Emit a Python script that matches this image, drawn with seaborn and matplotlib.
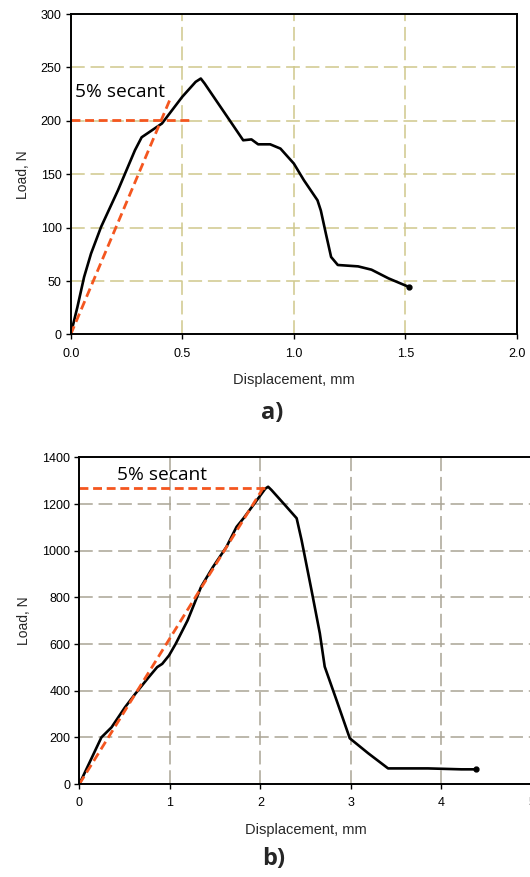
import matplotlib
matplotlib.use("Agg")
import matplotlib.pyplot as plt
import seaborn as sns
import pandas as pd

# ---- data: panel a) ----
disp_a = [0, 0.03, 0.06, 0.091, 0.136, 0.212, 0.288, 0.318, 0.409, 0.5, 0.56, 0.583, 0.60,
          0.652, 0.712, 0.773, 0.81, 0.84, 0.894, 0.94, 1.0, 1.045, 1.106, 1.121, 1.144,
          1.167, 1.197, 1.288, 1.348, 1.424, 1.515]
load_a = [0, 25.6, 53.7, 75.6, 100.6, 135, 172.5, 184.6, 197.5, 222.5, 236.5, 239.6, 235,
          219, 200.6, 181.8, 182.6, 178, 178, 174, 160, 144.4, 125.6, 116, 94,
          72.5, 65, 63.7, 60.6, 52.5, 44.5]
secant_a_x = [0, 0.447]
secant_a_y = [0, 221]
level_a_x = [0, 0.538]
level_a_y = [201, 201]

# ---- data: panel b) ----
disp_b = [0, 0.243, 0.355, 0.504, 0.616, 0.766, 0.859, 0.915, 0.99, 1.064, 1.195, 1.27,
          1.344, 1.475, 1.624, 1.736, 1.811, 1.92, 2.054, 2.085, 2.122, 2.27, 2.40, 2.454,
          2.564, 2.656, 2.71, 2.84, 2.987, 3.19, 3.41, 3.85, 4.22, 4.385]
load_b = [0, 200, 243, 329, 386, 458, 501, 515, 551, 601, 701, 773,
          845, 930, 1016, 1102, 1138, 1195, 1266, 1274, 1260, 1196, 1139, 1046,
          831, 646, 503, 360, 196, 132, 67, 67, 63, 63]
secant_b_x = [0, 2.05]
secant_b_y = [0, 1281]
level_b_x = [0, 2.05]
level_b_y = [1270, 1270]

xticks_a = [0.0, 0.5, 1.0, 1.5, 2.0]
xticklabels_a = ["0.0", "0.5", "1.0", "1.5", "2.0"]
yticks_a = [0, 50, 100, 150, 200, 250, 300]
xticks_b = [0, 1, 2, 3, 4, 5]
yticks_b = [0, 200, 400, 600, 800, 1000, 1200, 1400]

sns.set_style("white")
plt.rcParams['font.family'] = ['Liberation Sans', 'DejaVu Sans']

fig = plt.figure(figsize=(5.30, 8.77), dpi=100)
ax1 = fig.add_axes([0.1334, 0.6187, 0.842, 0.3653])
ax2 = fig.add_axes([0.1498, 0.106, 0.854, 0.3725])

orange = "#f4561f"
secant_dash = (0, (3.2, 1.7))

def style(ax, gridcolor):
    for s in ax.spines.values():
        s.set_color("black")
        s.set_linewidth(1.4)
    ax.grid(True, color=gridcolor, linestyle=(0, (9, 3.8)), linewidth=1.1)
    ax.set_axisbelow(True)
    ax.tick_params(axis="both", direction="out", length=3.5, width=1.0,
                   colors="black", labelsize=9, bottom=True, left=True)
    ax.tick_params(axis="x", pad=6)
    ax.tick_params(axis="y", pad=3)
    ax.set_xlabel("Displacement, mm", fontsize=10.5, labelpad=10)
    ax.set_ylabel("Load, N", fontsize=10, labelpad=8)

# panel a
df_a = pd.DataFrame({"disp": disp_a, "load": load_a})
sns.lineplot(data=df_a, x="disp", y="load", ax=ax1, color="black", linewidth=1.9,
             sort=False, estimator=None)
ax1.plot(disp_a[-1:], load_a[-1:], "o", color="black", markersize=3.5)
sns.lineplot(x=secant_a_x, y=secant_a_y, ax=ax1, color=orange, linewidth=2.0,
             linestyle=secant_dash, sort=False, estimator=None)
sns.lineplot(x=level_a_x, y=level_a_y, ax=ax1, color=orange, linewidth=2.0,
             linestyle=secant_dash, sort=False, estimator=None)
ax1.set_xlim(0, 2.0)
ax1.set_ylim(0, 300)
ax1.set_xticks(xticks_a)
ax1.set_xticklabels(xticklabels_a)
ax1.set_yticks(yticks_a)
style(ax1, "#cfc88c")
ax1.text(0.019, 227, "5% secant", fontsize=13.8, family=["Open Sans", "DejaVu Sans"],
         ha="left", va="center", color="black")

# panel b
df_b = pd.DataFrame({"disp": disp_b, "load": load_b})
sns.lineplot(data=df_b, x="disp", y="load", ax=ax2, color="black", linewidth=1.9,
             sort=False, estimator=None)
ax2.plot(disp_b[-1:], load_b[-1:], "o", color="black", markersize=3.5)
sns.lineplot(x=secant_b_x, y=secant_b_y, ax=ax2, color=orange, linewidth=2.0,
             linestyle=secant_dash, sort=False, estimator=None)
sns.lineplot(x=level_b_x, y=level_b_y, ax=ax2, color=orange, linewidth=2.0,
             linestyle=secant_dash, sort=False, estimator=None)
ax2.set_xlim(0, 5)
ax2.set_ylim(0, 1400)
ax2.set_xticks(xticks_b)
ax2.set_yticks(yticks_b)
style(ax2, "#aaa495")
ax2.text(0.41, 1324, "5% secant", fontsize=13.8, family=["Open Sans", "DejaVu Sans"],
         ha="left", va="center", color="black")

fig.text(272 / 530, 1 - 413 / 877, "a)", fontsize=17, fontweight="bold",
         family=["Open Sans", "DejaVu Sans"], ha="center", va="center")
fig.text(274 / 530, 1 - 859 / 877, "b)", fontsize=17, fontweight="bold",
         family=["Open Sans", "DejaVu Sans"], ha="center", va="center")

fig.savefig("out.png", dpi=100)
